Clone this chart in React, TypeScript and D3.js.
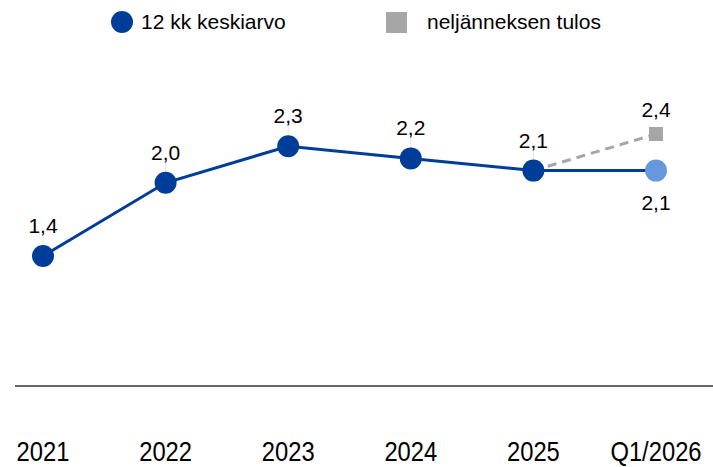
import React from 'react';
import * as d3 from 'd3';

const categories = ['2021', '2022', '2023', '2024', '2025', 'Q1/2026'];
const avgValues = [1.4, 2.0, 2.3, 2.2, 2.1, 2.1];
const avgLabels = ['1,4', '2,0', '2,3', '2,2', '2,1', '2,1'];
const quarterValues = [null, null, null, null, 2.1, 2.4];
const quarterLabels = ['', '', '', '', '', '2,4'];
const legendItems = ['12 kk keskiarvo', 'neljänneksen tulos'];

const width = 713;
const height = 467;
const font = 'Liberation Sans, Arial, sans-serif';
const darkBlue = '#003d99';
const lightBlue = '#6797dc';
const grey = '#a6a6a6';

const App = () => {
    const x = d3.scalePoint<string>()
        .domain(categories)
        .range([43, 656]);

    const y = d3.scaleLinear()
        .domain([1.4, 2.4])
        .range([256, 134]);

    const avgLine = d3.line<number>()
        .x((d, i) => x(categories[i]) as number)
        .y(d => y(d));

    const quarterPts = quarterValues
        .map((v, i) => ({ v, c: categories[i] }))
        .filter(d => d.v !== null) as { v: number; c: string }[];

    const quarterLine = d3.line<{ v: number; c: string }>()
        .x(d => x(d.c) as number)
        .y(d => y(d.v));

    const last = categories.length - 1;

    return (
        <svg width={width} height={height} style={{ position: 'absolute', left: 0, top: 0 }}>
            <rect width={width} height={height} fill="#fff" />

            {/* legend */}
            <circle cx={122} cy={22} r={11} fill={darkBlue} />
            <text x={141} y={29} fontFamily={font} fontSize={21} fill="#000">{legendItems[0]}</text>
            <rect x={386} y={12} width={21} height={21} fill={grey} />
            <text x={427} y={29} fontFamily={font} fontSize={21} fill="#000">{legendItems[1]}</text>

            {/* baseline */}
            <line x1={15} x2={width} y1={386} y2={386} stroke="#666" strokeWidth={2} />

            {/* faint leader lines */}
            {avgValues.map((v, i) => i === last ? null : (
                <line key={'ll' + i} x1={x(categories[i]) as number} x2={x(categories[i]) as number}
                    y1={y(v) - 20} y2={y(v) - 8} stroke="#e4e4e4" strokeWidth={1} />
            ))}

            {/* quarter result dashed */}
            <path d={quarterLine(quarterPts) || ''} fill="none" stroke={grey} strokeWidth={3} strokeDasharray="9,6" />
            {quarterPts.slice(1).map(d => (
                <rect key={d.c} x={(x(d.c) as number) - 7} y={y(d.v) - 7} width={14} height={14} fill={grey} />
            ))}

            {/* 12 month average */}
            <path d={avgLine(avgValues) || ''} fill="none" stroke={darkBlue} strokeWidth={3} />
            {avgValues.map((v, i) => (
                <circle key={categories[i]} cx={x(categories[i]) as number} cy={y(v)} r={11}
                    fill={i === last ? lightBlue : darkBlue} />
            ))}

            {/* value labels */}
            {avgValues.map((v, i) => (
                <text key={'l' + i} x={x(categories[i]) as number} y={i === last ? y(v) + 39 : y(v) - 23}
                    textAnchor="middle" fontFamily={font} fontSize={21} fill="#000">{avgLabels[i]}</text>
            ))}
            {quarterValues.map((v, i) => (v !== null && quarterLabels[i]) ? (
                <text key={'q' + i} x={x(categories[i]) as number} y={y(v) - 17}
                    textAnchor="middle" fontFamily={font} fontSize={21} fill="#000">{quarterLabels[i]}</text>
            ) : null)}

            {/* x labels */}
            {categories.map(c => (
                <text key={c} transform={`translate(${x(c)},461) scale(0.88,1)`} textAnchor="middle"
                    fontFamily={font} fontSize={27} fill="#000">{c}</text>
            ))}
        </svg>
    );
};

export default App;
